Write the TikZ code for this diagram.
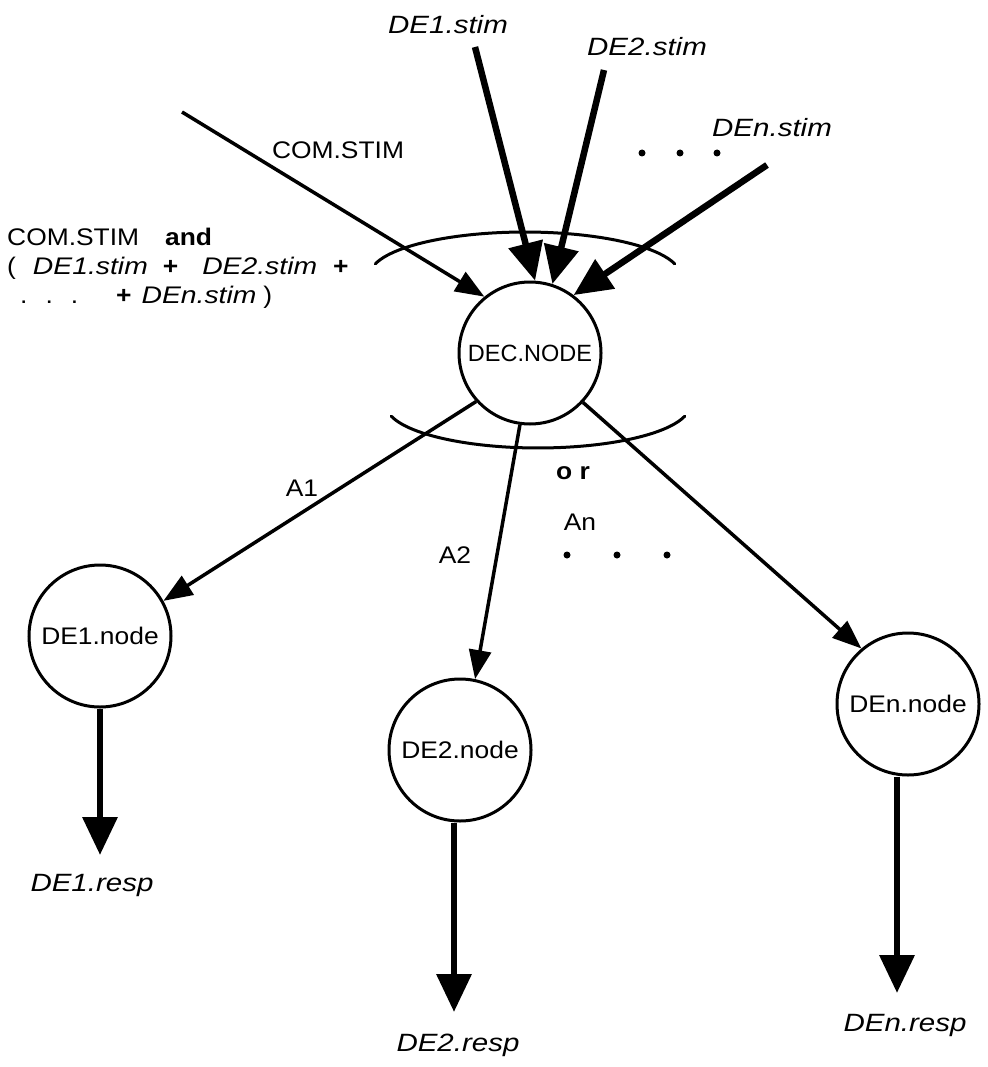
\documentclass[tikz,border=0pt]{standalone}
\usepackage{fontspec}
\setmainfont{Liberation Sans}[FakeStretch=1.1]
\newfontfamily\plainsans{Liberation Sans}
\newfontfamily\stimfont{Liberation Sans}[FakeStretch=1.18]
\newcommand{\stimtxt}[1]{{\stimfont\itshape #1}}
\usetikzlibrary{arrows.meta}
\begin{document}
\begin{tikzpicture}[x=1pt,y=-1pt,
  circ/.style={circle,draw,line width=3pt,minimum size=142pt,inner sep=0pt,
    font=\fontsize{24}{26}\selectfont},
  lbl/.style={font=\fontsize{24}{27}\selectfont,inner sep=0pt},
  ilbl/.style={font=\fontsize{25}{27}\selectfont\stimfont\itshape,inner sep=0pt},
  stimarrow/.style={line width=6.5pt,-{Triangle[length=38pt,width=34pt]}},
  flowarrow/.style={line width=3.5pt,-{Triangle[length=29pt,width=22pt]}},
  arcline/.style={line width=3pt,line cap=round},
  bigdot/.style={circle,fill,inner sep=0pt,minimum size=7pt}
]
\path[use as bounding box] (0,0) rectangle (987,1067);

% nodes
\node[circ,font=\fontsize{23.5}{26}\selectfont\plainsans] (dec) at (530,353) {DEC.NODE};
\node[circ] (n1) at (100,636) {DE1.node};
\node[circ] (n2) at (460,750) {DE2.node};
\node[circ] (nn) at (908,704) {DEn.node};

% free ends of the stimulus and response arrows
\coordinate (c0) at (182,112);
\coordinate (s1) at (475,47);
\coordinate (s2) at (604,70);
\coordinate (sn) at (767,165);
\coordinate (r1) at (100,855);
\coordinate (r2) at (454,1012);
\coordinate (rn) at (897,993);

% "and" arc above, "or" arc below the decision node
\draw[arcline] (375.3,263.9) arc[start angle=-165,end angle=-15,x radius=155,y radius=43];
\draw[arcline] (391.2,416.1) arc[start angle=165,end angle=15,x radius=152,y radius=43];

% stimuli
\draw[flowarrow] (c0) -- (dec.129);
\draw[stimarrow] (s1) -- (dec.86);
\draw[stimarrow] (s2) -- (dec.72);
\draw[stimarrow] (sn) -- (dec.53);

% alternatives
\draw[flowarrow] (dec.222) -- (n1.29);
\draw[flowarrow] (dec.262) -- (n2.78);
\draw[flowarrow] (dec.317) -- (nn.130);

% responses
\draw[stimarrow] (n1.south) -- (r1);
\draw[stimarrow] ([xshift=-6pt]n2.south) -- (r2);
\draw[stimarrow] ([xshift=-11pt]nn.south) -- (rn);

% labels
\node[ilbl] (t1) at (448,25) {DE1.stim};
\node[ilbl] (t2) at (647,47) {DE2.stim};
\node[ilbl] (tn) at (772,128) {DEn.stim};
\node[lbl] (tc) at (338,150) {COM.STIM};
\node[bigdot] (d1) at (642,153) {};
\node[bigdot] (d2) at (680,153) {};
\node[bigdot] (d3) at (717,153) {};

% firing condition of the decision node
\node[lbl,anchor=base west] (cond1) at (7,246)
  {COM.STIM\hspace{26pt}\textbf{and}};
\node[lbl,anchor=base west] (cond2) at (7,274)
  {(\hspace{17pt}\stimtxt{DE1.stim}\hspace{15pt}\textbf{+}\hspace{24pt}\stimtxt{DE2.stim}\hspace{16pt}\textbf{+}};
\node[lbl,anchor=base west] (cond3) at (20,303)
  {.\hspace{18pt}.\hspace{18pt}.\hspace{38pt}\textbf{+}\hspace{10pt}\stimtxt{DEn.stim}\hspace{7pt})};

\node[lbl] (a1) at (302,488) {A1};
\node[lbl] (a2) at (455,555) {A2};
\node[lbl] (an) at (580,522) {An};
\node[lbl,font=\fontsize{24}{27}\selectfont\bfseries] (or) at (573,473) {o r};
\node[bigdot] (m1) at (567,555) {};
\node[bigdot] (m2) at (617,555) {};
\node[bigdot] (m3) at (667,555) {};

\node[ilbl] (e1) at (92,885) {DE1.resp};
\node[ilbl] (e2) at (458,1045) {DE2.resp};
\node[ilbl] (en) at (905,1025) {DEn.resp};
\end{tikzpicture}
\end{document}
